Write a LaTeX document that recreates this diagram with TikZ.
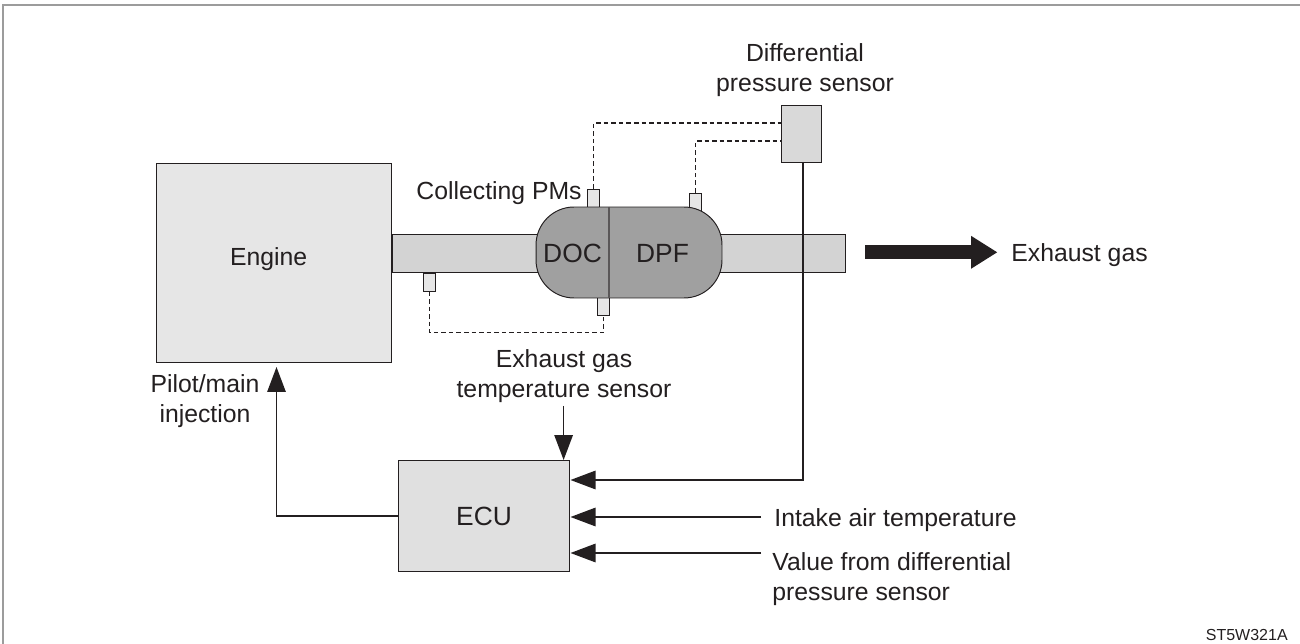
\documentclass[tikz,border=0pt]{standalone}
\usepackage{fontspec}
\setmainfont{Liberation Sans}
\usepackage{tikz}
\usetikzlibrary{arrows.meta, positioning}
\definecolor{framegray}{HTML}{9c9c9c}
\definecolor{inkblack}{HTML}{231f20}
\definecolor{enginefill}{HTML}{e6e6e6}
\definecolor{pipefill}{HTML}{d3d3d3}
\definecolor{canfill}{HTML}{a0a0a0}
\definecolor{tapfill}{HTML}{e6e6e6}
\definecolor{sensorfill}{HTML}{d9d9d9}
\definecolor{ecufill}{HTML}{e0e0e0}

\begin{document}
\begin{tikzpicture}[
    x=0.02cm, y=-0.02cm,
    every node/.style={text=inkblack, font=\fontsize{14.1}{17}\selectfont},
    block/.style={rectangle, draw=inkblack, line width=0.55pt, inner sep=0pt},
    tap/.style={block, fill=tapfill, minimum width=0.24cm, minimum height=0.36cm},
    label/.style={align=center, inner sep=0pt},
    leftlabel/.style={align=left, inner sep=0pt, anchor=west},
    wire/.style={inkblack, line width=0.8pt},
    dashwire/.style={inkblack, line width=0.75pt, dash pattern=on 2.6pt off 1.7pt},
    arrow/.style={wire, -{Triangle[length=0.5cm, width=0.37cm]}},
]
    \useasboundingbox (0,0) rectangle (1300,644);
    % frame
    \draw[framegray, line width=1.13pt] (3,644) -- (3,5) -- (1300,5);

    % exhaust line
    \node[block, fill=pipefill, anchor=west, minimum width=9.06cm, minimum height=0.77cm] (pipe) at (391.7,253.3) {};
    \node[block, fill=enginefill, minimum width=4.7cm, minimum height=4cm] (engine) at (273.5,263) {};
    \node (enginetext) at (268.7,259.5) {Engine};
    \node[tap] (tapa) at (593.7,198) {};
    \node[tap] (tapb) at (695.7,202) {};
    \node[tap] (tapc) at (429.7,282) {};
    \node[tap] (tapd) at (603.7,306.5) {};
    \node[block, fill=canfill, rounded corners=0.76cm, minimum width=3.72cm, minimum height=1.82cm] (can) at (629,252.5) {};
    \coordinate (splittop) at (609,207);
    \coordinate (splitbot) at (609,298);
    \draw[inkblack!75, line width=0.8pt] (splittop) -- (splitbot);
    \node[font=\fontsize{15}{17}\selectfont] (doc) at (572.5,253.5) {DOC};
    \node[font=\fontsize{15}{17}\selectfont, right=0.44cm of doc] (dpf) {DPF};

    % sensor
    \node[block, fill=sensorfill, minimum width=0.79cm, minimum height=1.14cm] (dps) at (801.5,133.5) {};
    \node[label] (dpslabel) at (805,70) {Differential\\pressure sensor};
    \node[label, anchor=east] (pms) at (582,193.5) {Collecting PMs};
    \coordinate (dpsa) at (781.7,123);
    \coordinate (dpsb) at (781.7,141);
    \coordinate (dpsout) at (803,162);
    \coordinate (loop) at (500,332.7);
    \draw[dashwire] (tapa.north) |- (dpsa);
    \draw[dashwire] (tapb.north) |- (dpsb);
    \draw[dashwire] (tapc.south) |- (loop) -| (tapd.south);

    % ECU
    \node[block, fill=ecufill, minimum width=3.42cm, minimum height=2.22cm] (ecu) at (483.5,516) {};
    \node at (484,516) (ecutext) {\fontsize{15}{17}\selectfont ECU};
    \coordinate (ecuin) at (570.5,480);
    \coordinate (ecuair) at (570.5,517);
    \coordinate (ecuval) at (570.5,553);
    \coordinate (engin) at (276.5,367);
    \coordinate (tempend) at (563.6,460);
    \coordinate (tempstart) at (563.6,406);
    \coordinate (airstart) at (761,517);
    \coordinate (valstart) at (761,553);
    \coordinate (dpsturn) at (dpsout |- ecuin);
    \draw[arrow] (dpsout) -- (dpsturn) -- (ecuin);
    \draw[arrow] (airstart) -- (ecuair);
    \draw[arrow] (valstart) -- (ecuval);
    \draw[arrow] (tempstart) -- (tempend);
    \draw[arrow] (ecu.west) -| (engin);

    \node[label] (templabel) at (564,376.5) {Exhaust gas\\temperature sensor};
    \node[label] (pilot) at (205,401) {Pilot/main\\injection};
    \node[leftlabel] (air) at (774,520) {Intake air temperature};
    \node[leftlabel] (val) at (772,579.5) {Value from differential\\pressure sensor};

    % exhaust arrow
    \coordinate (gasstart) at (865,252.3);
    \coordinate (gasend) at (997.5,252.3);
    \draw[inkblack, line width=0.28cm, -{Triangle[length=0.53cm, width=0.62cm]}] (gasstart) -- (gasend);
    \node[leftlabel] (gas) at (1011,255) {Exhaust gas};

    \node[anchor=east, inner sep=0pt, font=\fontsize{9.1}{11}\selectfont] (code) at (1288,635) {ST5W321A};
\end{tikzpicture}
\end{document}
